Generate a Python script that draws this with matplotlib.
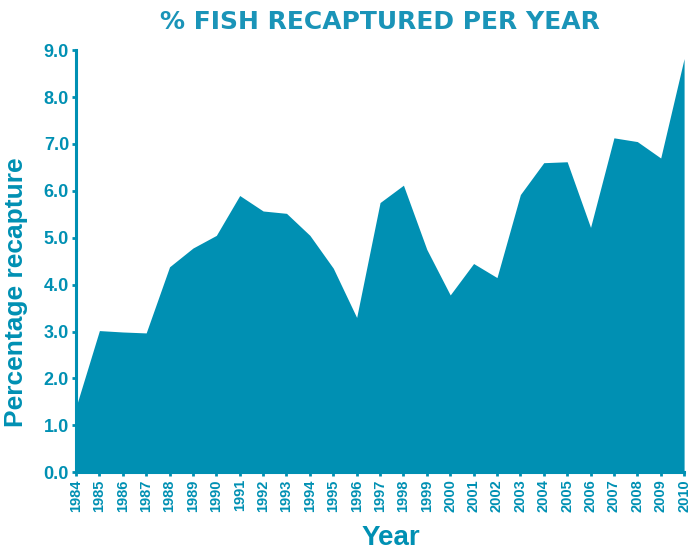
import numpy as np
import matplotlib
matplotlib.use('Agg')
import matplotlib.pyplot as plt

years = list(range(1984, 2011))
recapture = [1.39, 3.02, 2.99, 2.97, 4.38, 4.78, 5.05, 5.90, 5.57, 5.52,
             5.05, 4.35, 3.30, 5.75, 6.12, 4.75, 3.78, 4.45, 4.15, 5.92,
             6.60, 6.62, 5.22, 7.13, 7.05, 6.70, 8.82]
yticks = [0.0, 1.0, 2.0, 3.0, 4.0, 5.0, 6.0, 7.0, 8.0, 9.0]

teal = '#0090b3'
plt.rcParams['font.family'] = ['Liberation Sans', 'DejaVu Sans']

fig = plt.figure(figsize=(6.91, 5.51), dpi=100)
ax = fig.add_axes([0.110, 0.143, 0.880, 0.766])

ax.fill_between(years, recapture, 0, color=teal, linewidth=0)
ax.set_xlim(1984, 2010)
ax.set_ylim(0, 9)
ax.set_yticks(yticks)
ax.set_yticklabels(['%.1f' % v for v in yticks], fontsize=13, fontweight='bold', color=teal)
ax.set_xticks(years)
ax.set_xticklabels([str(y) for y in years], rotation=90, fontsize=10.5, fontweight='bold', color=teal)

for s in ['top', 'right']:
    ax.spines[s].set_visible(False)
for s in ['left', 'bottom']:
    ax.spines[s].set_color(teal)
    ax.spines[s].set_linewidth(2.2)
ax.tick_params(axis='both', colors=teal, width=2, length=3, pad=2)

ax.set_xlabel('Year', fontsize=20, fontweight='bold', color=teal, va='center')
ax.xaxis.set_label_coords(0.518, -0.155)
ax.set_ylabel('Percentage recapture', fontsize=19, fontweight='bold', color=teal, va='center')
ax.yaxis.set_label_coords(-0.098, 0.427)
fig.text(0.55, 0.96, '% FISH RECAPTURED PER YEAR', ha='center', va='center',
         fontsize=18, fontweight='bold', color='#1a94b8', family='DejaVu Sans')

fig.savefig('out.png', dpi=100)
